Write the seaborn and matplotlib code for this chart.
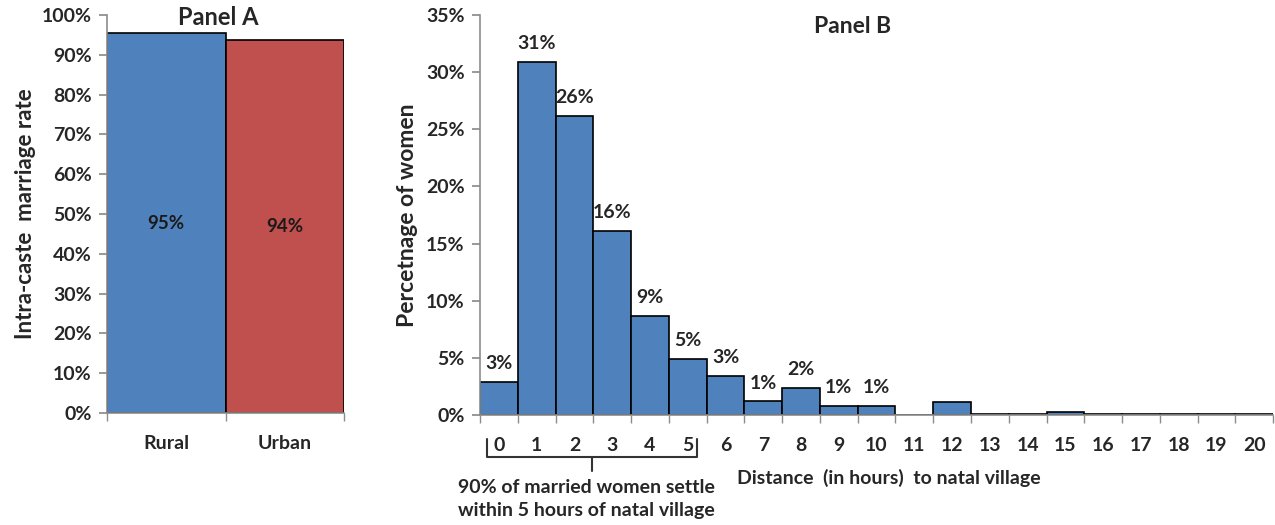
import numpy as np
import pandas as pd
import matplotlib
matplotlib.use("Agg")
import matplotlib.pyplot as plt
import matplotlib.transforms as mtransforms
from matplotlib.ticker import FuncFormatter, FixedLocator
import seaborn as sns

# Panel A data
areas = ["Rural", "Urban"]
intra_caste_rate = [95.4, 93.7]

# Panel B data
hours = list(range(21))
pct_women = [2.9, 30.9, 26.2, 16.1, 8.7, 4.9, 3.4, 1.2, 2.4, 0.8, 0.8,
             0.0, 1.1, 0.05, 0.05, 0.3, 0.05, 0.05, 0.05, 0.05, 0.05]
n_labelled = 11

sns.set_theme(style="white")
plt.rcParams["font.family"] = ["Lato", "DejaVu Sans"]
plt.rcParams["font.weight"] = "bold"

BLUE = "#4F81BD"
RED = "#C0504D"
GRAY = "#8c8c8c"
FS = 14

fig = plt.figure(figsize=(12.75, 5.25), dpi=100)
ax_a = fig.add_axes([0.0839, 0.2133, 0.186, 0.758])
ax_b = fig.add_axes([0.3765, 0.2095, 0.622, 0.762])

pct_fmt = FuncFormatter(lambda v, p: f"{v:.0f}%")


def style_axes(ax):
    for s in ["top", "right"]:
        ax.spines[s].set_visible(False)
    for s in ["left", "bottom"]:
        ax.spines[s].set_color(GRAY)
        ax.spines[s].set_linewidth(1.2)
    ax.yaxis.set_major_formatter(pct_fmt)
    ax.tick_params(axis="y", which="major", direction="out", length=6,
                   color=GRAY, labelsize=FS, pad=5, left=True)
    ax.tick_params(axis="x", which="major", length=0, labelsize=FS, pad=16)
    ax.tick_params(axis="x", which="minor", direction="out", length=6,
                   color=GRAY, bottom=True)
    for lbl in ax.get_yticklabels() + ax.get_xticklabels():
        lbl.set_fontweight("bold")


# ---- Panel A
df_a = pd.DataFrame({"area": areas, "rate": intra_caste_rate})
sns.barplot(data=df_a, x="area", y="rate", hue="area", palette=[BLUE, RED],
            saturation=1, width=1.0, edgecolor="black", linewidth=1.2,
            legend=False, ax=ax_a)
ax_a.set_xlim(-0.5, 1.5)
ax_a.set_ylim(0, 100)
ax_a.set_yticks(np.arange(0, 101, 10))
ax_a.xaxis.set_minor_locator(FixedLocator([-0.5, 0.5, 1.5]))
style_axes(ax_a)
ax_a.set_xlabel("")
ax_a.set_ylabel("Intra-caste  marriage rate", fontsize=16, fontweight="bold", labelpad=4)
for i, v in enumerate(intra_caste_rate):
    ax_a.text(i, v / 2, f"{v:.0f}%", ha="center", va="center",
              fontsize=13.5, fontweight="bold", color="#1a1a1a")
ax_a.set_title("Panel A", fontsize=17, fontweight="bold", x=0.47, y=0.975, pad=0)

# ---- Panel B
df_b = pd.DataFrame({"hours": [str(h) for h in hours], "pct": pct_women})
sns.barplot(data=df_b, x="hours", y="pct", color=BLUE, saturation=1,
            width=1.0, edgecolor="black", linewidth=1.2, ax=ax_b)
ax_b.set_xlim(-0.5, 20.5)
ax_b.set_ylim(0, 35)
ax_b.set_yticks(np.arange(0, 36, 5))
ax_b.xaxis.set_minor_locator(FixedLocator(np.arange(-0.5, 21, 1)))
style_axes(ax_b)
ax_b.set_xlabel("")
ax_b.set_ylabel("Percetnage of women", fontsize=16.5, fontweight="bold", labelpad=6)
for i in range(n_labelled):
    v = pct_women[i]
    ax_b.annotate(f"{v:.0f}%", (i, v), xytext=(0, 7), textcoords="offset points",
                  ha="center", va="bottom", fontsize=FS, fontweight="bold")
ax_b.set_title("Panel B", fontsize=16.5, fontweight="bold", x=0.47, y=0.955, pad=0)

# brace under hours 0-5
trans = mtransforms.blended_transform_factory(ax_b.transData, ax_b.transAxes)
x0, x1, xm = -0.32, 5.25, 2.47
y_top, y_bar, y_tip = -0.06, -0.105, -0.14
ax_b.plot([x0, x0, x1, x1], [y_top, y_bar, y_bar, y_top], color="#333333", lw=1.5,
          transform=trans, clip_on=False, zorder=10)
ax_b.plot([xm, xm], [y_bar, y_tip], color="#333333", lw=1.5,
          transform=trans, clip_on=False, zorder=10)

fig.text(458 / 1275, 1 - 499 / 525, "90% of married women settle\nwithin 5 hours of natal village",
         ha="left", va="center", fontsize=FS, fontweight="bold", linespacing=1.45)
fig.text(737 / 1275, 1 - 478 / 525, "Distance  (in hours)  to natal village",
         ha="left", va="center", fontsize=FS, fontweight="bold")

fig.savefig("out.png", dpi=100)
